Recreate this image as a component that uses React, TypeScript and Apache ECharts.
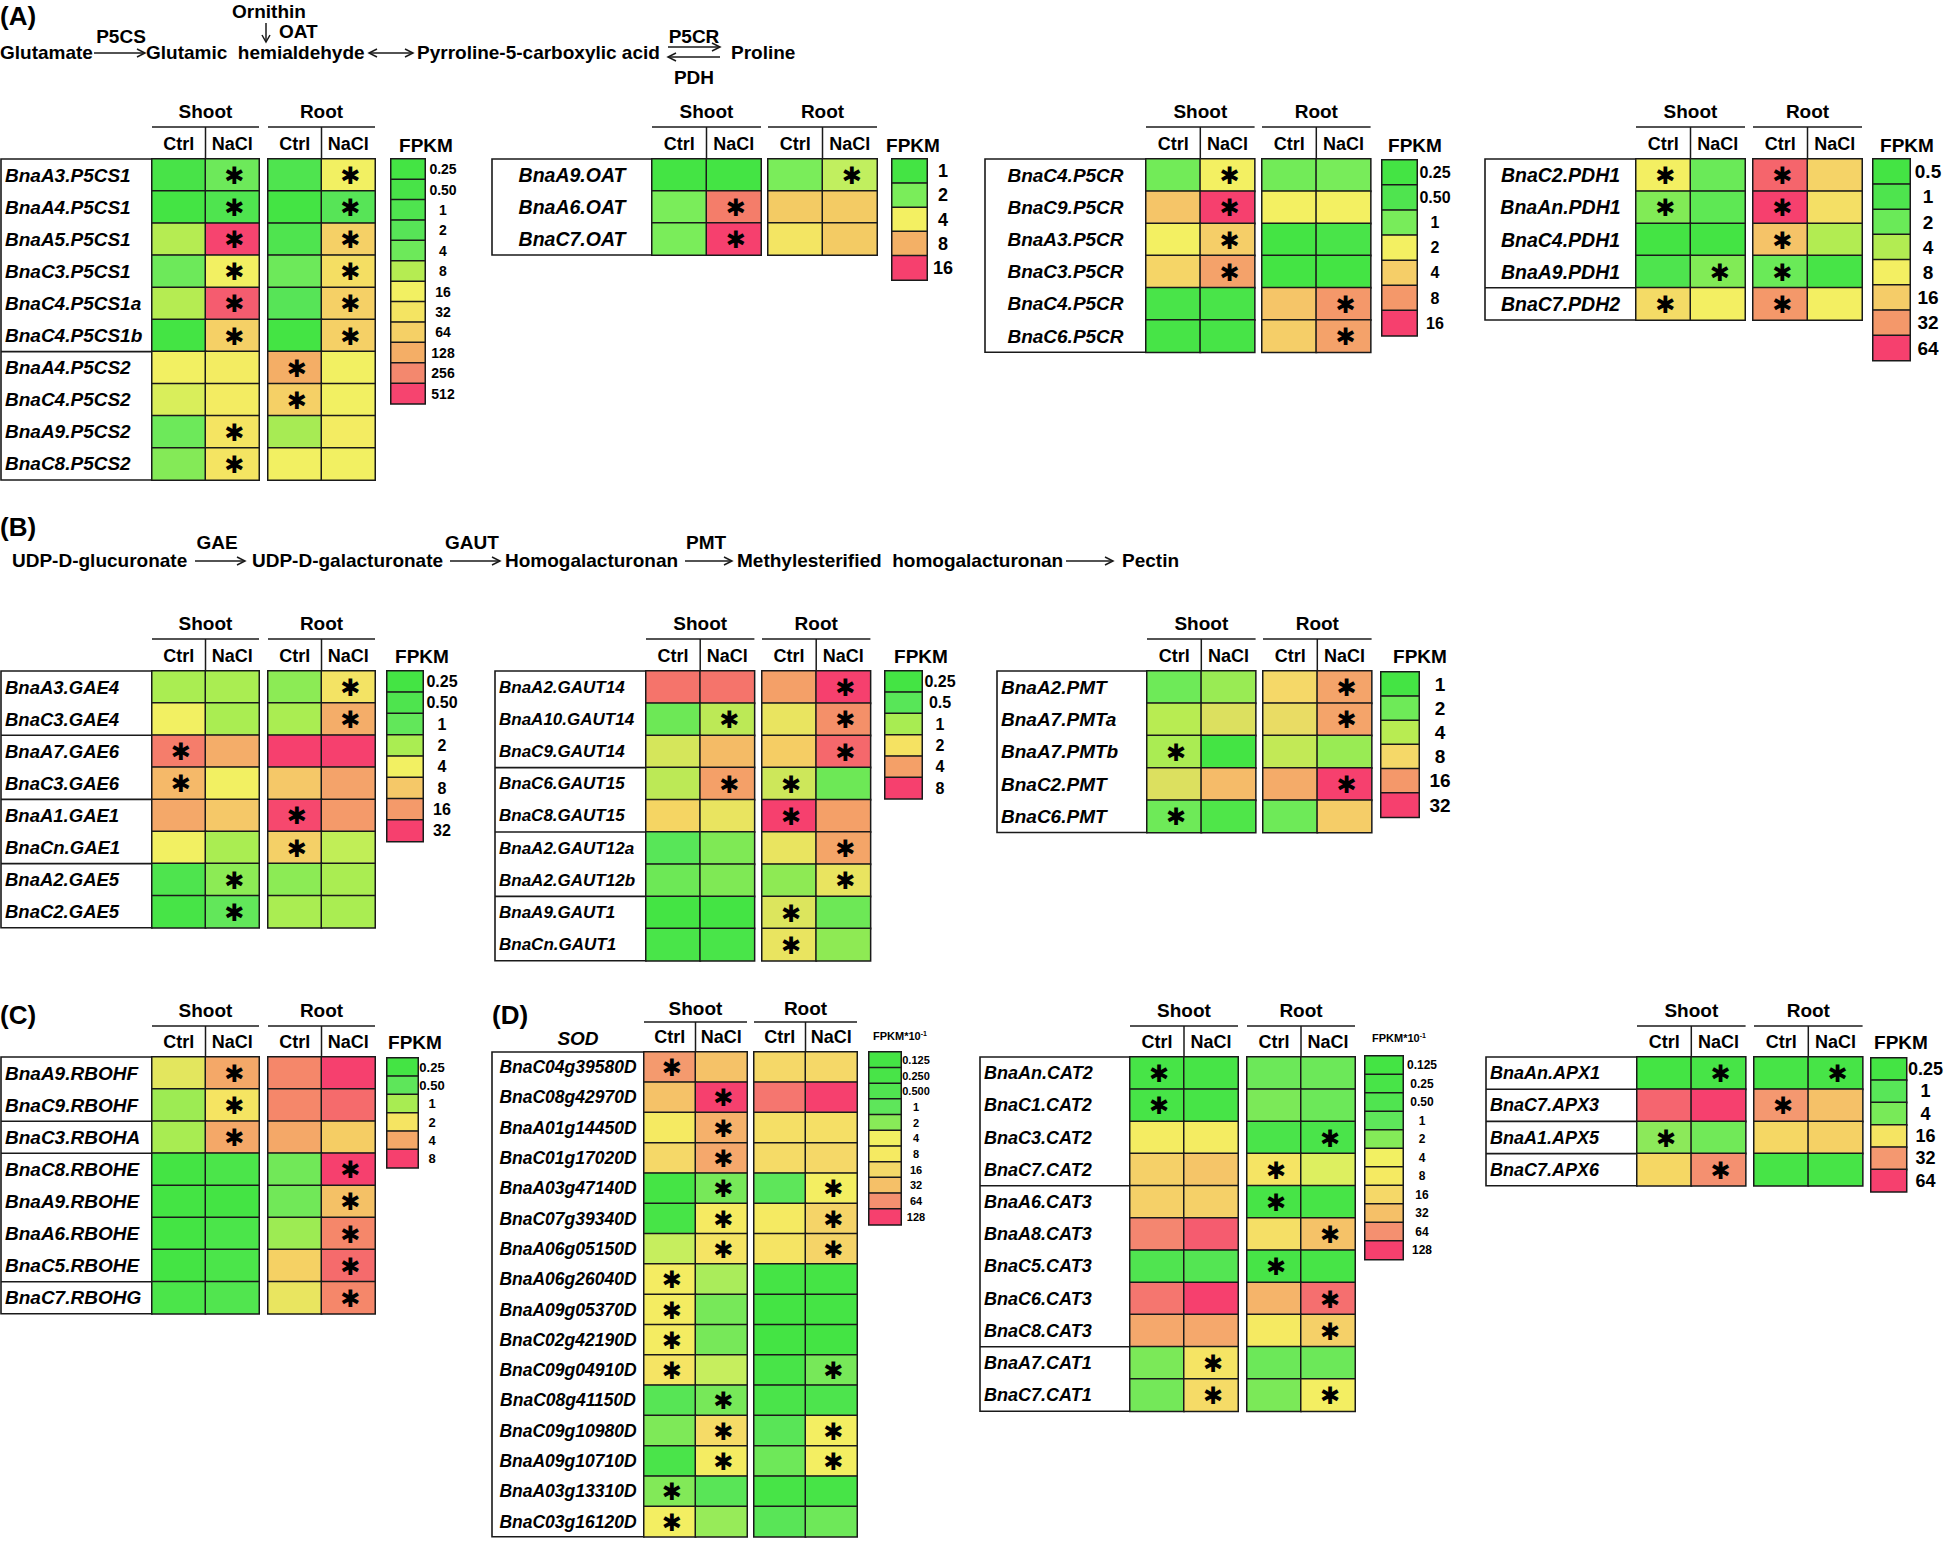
import React, { useEffect, useRef } from "react";
import * as echarts from "echarts";

const FONT = "'Liberation Sans', Arial, Helvetica, sans-serif";
const STAR_FONT = "'DejaVu Sans', 'Liberation Sans', sans-serif";

const conditionLabels = ["Ctrl", "NaCl"];
const tissueLabels = ["Shoot", "Root"];
const starMark = "\u2731";

// ---------------- (A) Proline ----------------
const p5csGenes = ["BnaA3.P5CS1", "BnaA4.P5CS1", "BnaA5.P5CS1", "BnaC3.P5CS1", "BnaC4.P5CS1a", "BnaC4.P5CS1b", "BnaA4.P5CS2", "BnaC4.P5CS2", "BnaA9.P5CS2", "BnaC8.P5CS2"];
// columns: Shoot Ctrl, Shoot NaCl, Root Ctrl, Root NaCl (FPKM)
const p5csValues = [
  [0.5, 4, 1, 16], [0.25, 1, 0.25, 2], [8, 512, 1, 64], [4, 16, 4, 40], [8, 400, 2, 64],
  [0.25, 64, 0.25, 64], [16, 20, 128, 16], [12, 20, 64, 16], [4, 32, 7, 20], [5, 32, 16, 16],
];
const p5csStars = [
  [0, 1, 0, 1], [0, 1, 0, 1], [0, 1, 0, 1], [0, 1, 0, 1], [0, 1, 0, 1],
  [0, 1, 0, 1], [0, 0, 1, 0], [0, 0, 1, 0], [0, 1, 0, 0], [0, 1, 0, 0],
];
const p5csLevels = ["0.25", "0.50", "1", "2", "4", "8", "16", "32", "64", "128", "256", "512"];
const p5csColors = ["#44e444", "#48e348", "#4fe44f", "#57e457", "#6de95a", "#b5ec52", "#f2f062", "#f4e462", "#f5d066", "#f4ae66", "#f3886e", "#f6446f"];

const oatGenes = ["BnaA9.OAT", "BnaA6.OAT", "BnaC7.OAT"];
const oatValues = [[1, 1, 2, 3], [2, 11, 6, 6], [2, 16, 4.5, 6]];
const oatStars = [[0, 0, 0, 1], [0, 1, 0, 0], [0, 1, 0, 0]];
const oatLevels = ["1", "2", "4", "8", "16"];
const oatColors = ["#44e444", "#7aed5a", "#f3f062", "#f3b066", "#f6406e"];

const p5crGenes = ["BnaC4.P5CR", "BnaC9.P5CR", "BnaA3.P5CR", "BnaC3.P5CR", "BnaC4.P5CR", "BnaC6.P5CR"];
const p5crValues = [[0.9, 2, 0.9, 1], [4.5, 16, 2, 2], [2, 4, 0.25, 0.35], [3.5, 7, 0.25, 0.25], [0.35, 0.35, 4.5, 8], [0.3, 0.3, 4, 7]];
const p5crStars = [[0, 1, 0, 0], [0, 1, 0, 0], [0, 1, 0, 0], [0, 1, 0, 0], [0, 0, 0, 1], [0, 0, 0, 1]];
const p5crLevels = ["0.25", "0.50", "1", "2", "4", "8", "16"];
const p5crColors = ["#44e444", "#4fe44f", "#78ec5a", "#f3f062", "#f5ce68", "#f4986a", "#f6406e"];

const pdhGenes = ["BnaC2.PDH1", "BnaAn.PDH1", "BnaC4.PDH1", "BnaA9.PDH1", "BnaC7.PDH2"];
const pdhValues = [[8, 2, 48, 14], [2.5, 1.5, 64, 11], [0.5, 0.5, 18, 4], [1, 2.5, 2, 0.6], [12, 8, 32, 8]];
const pdhStars = [[1, 0, 1, 0], [1, 0, 1, 0], [0, 0, 1, 0], [0, 1, 1, 0], [1, 0, 1, 0]];
const pdhLevels = ["0.5", "1", "2", "4", "8", "16", "32", "64"];
const pdhColors = ["#44e444", "#4ee44e", "#6aea58", "#b2ec52", "#f3ef62", "#f5cc68", "#f4986a", "#f6406e"];

// ---------------- (B) Pectin ----------------
const gaeGenes = ["BnaA3.GAE4", "BnaC3.GAE4", "BnaA7.GAE6", "BnaC3.GAE6", "BnaA1.GAE1", "BnaCn.GAE1", "BnaA2.GAE5", "BnaC2.GAE5"];
const gaeValues = [[2, 2, 1.5, 5], [4, 2, 2, 12], [20, 12, 32, 32], [10, 4, 8, 14], [13, 8, 30, 16], [4, 2, 7, 2.5], [0.5, 1.5, 1.5, 2], [0.3, 1, 2, 2]];
const gaeStars = [[0, 0, 0, 1], [0, 0, 0, 1], [1, 0, 0, 0], [1, 0, 0, 0], [0, 0, 1, 0], [0, 0, 1, 0], [0, 1, 0, 0], [0, 1, 0, 0]];
const gaeLevels = ["0.25", "0.50", "1", "2", "4", "8", "16", "32"];
const gaeColors = ["#44e444", "#4ee44e", "#62e75a", "#aaed52", "#f2f062", "#f5c868", "#f49a6a", "#f6406e"];

const gautGenes = ["BnaA2.GAUT14", "BnaA10.GAUT14", "BnaC9.GAUT14", "BnaC6.GAUT15", "BnaC8.GAUT15", "BnaA2.GAUT12a", "BnaA2.GAUT12b", "BnaA9.GAUT1", "BnaCn.GAUT1"];
const gautValues = [[5.5, 5.5, 4, 8], [0.6, 1.2, 1.8, 4.5], [1.5, 3, 2.5, 6], [1.2, 4, 1.4, 0.6], [2.3, 1.8, 8, 4], [0.5, 0.7, 1.8, 3.8], [0.6, 0.7, 0.8, 1.8], [0.25, 0.25, 1.6, 0.6], [0.3, 0.3, 1.8, 0.8]];
const gautStars = [[0, 0, 0, 1], [0, 1, 0, 1], [0, 0, 0, 1], [0, 1, 1, 0], [0, 0, 1, 0], [0, 0, 0, 1], [0, 0, 0, 1], [0, 0, 1, 0], [0, 0, 1, 0]];
const gautLevels = ["0.25", "0.5", "1", "2", "4", "8"];
const gautColors = ["#44e444", "#58e658", "#a8ec52", "#f5e262", "#f4a068", "#f6406e"];

const pmtGenes = ["BnaA2.PMT", "BnaA7.PMTa", "BnaA7.PMTb", "BnaC2.PMT", "BnaC6.PMT"];
const pmtValues = [[2, 3, 8, 14], [4, 6, 7, 14], [3.5, 1, 4.5, 3], [6, 11, 13, 32], [2, 1.2, 2, 9]];
const pmtStars = [[0, 0, 0, 1], [0, 0, 0, 1], [1, 0, 0, 0], [0, 0, 0, 1], [1, 0, 0, 0]];
const pmtLevels = ["1", "2", "4", "8", "16", "32"];
const pmtColors = ["#44e444", "#6eea58", "#b8ec52", "#f5d868", "#f4986a", "#f6406e"];

// ---------------- (C) RBOH ----------------
const rbohGenes = ["BnaA9.RBOHF", "BnaC9.RBOHF", "BnaC3.RBOHA", "BnaC8.RBOHE", "BnaA9.RBOHE", "BnaA6.RBOHE", "BnaC5.RBOHE", "BnaC7.RBOHG"];
const rbohValues = [[1.7, 4, 5, 8], [0.9, 2, 5, 6], [1, 4, 4, 2.6], [0.25, 0.3, 0.6, 8], [0.25, 0.25, 0.6, 3], [0.25, 0.3, 0.9, 5], [0.25, 0.3, 2.5, 6], [0.3, 0.35, 1.8, 5]];
const rbohStars = [[0, 1, 0, 0], [0, 1, 0, 0], [0, 1, 0, 0], [0, 0, 0, 1], [0, 0, 0, 1], [0, 0, 0, 1], [0, 0, 0, 1], [0, 0, 0, 1]];
const rbohLevels = ["0.25", "0.50", "1", "2", "4", "8"];
const rbohColors = ["#44e444", "#5ee65a", "#a8ec52", "#f5e462", "#f4a868", "#f6406e"];

// ---------------- (D) SOD / CAT / APX ----------------
const sodGenes = ["BnaC04g39580D", "BnaC08g42970D", "BnaA01g14450D", "BnaC01g17020D", "BnaA03g47140D", "BnaC07g39340D", "BnaA06g05150D", "BnaA06g26040D", "BnaA09g05370D", "BnaC02g42190D", "BnaC09g04910D", "BnaC08g41150D", "BnaC09g10980D", "BnaA09g10710D", "BnaA03g13310D", "BnaC03g16120D"];
const sodValues = [
  [55, 30, 16, 16], [30, 128, 80, 128], [8, 40, 12, 12], [16, 45, 14, 16], [0.15, 1.5, 1, 5], [0.2, 8, 8, 18],
  [3, 10, 10, 18], [6, 2.5, 0.15, 0.15], [6, 1.5, 0.13, 0.15], [6, 1.5, 0.13, 0.13], [10, 3, 0.25, 1.5],
  [0.7, 1.5, 0.3, 0.4], [1.7, 14, 0.8, 5], [0.3, 6, 1.3, 5], [1.8, 0.8, 0.2, 0.2], [5, 2.2, 0.8, 1.3],
];
const sodStars = [
  [1, 0, 0, 0], [0, 1, 0, 0], [0, 1, 0, 0], [0, 1, 0, 0], [0, 1, 0, 1], [0, 1, 0, 1], [0, 1, 0, 1], [1, 0, 0, 0],
  [1, 0, 0, 0], [1, 0, 0, 0], [1, 0, 0, 1], [0, 1, 0, 0], [0, 1, 0, 1], [0, 1, 0, 1], [1, 0, 0, 0], [1, 0, 0, 0],
];
const sodLevels = ["0.125", "0.250", "0.500", "1", "2", "4", "8", "16", "32", "64", "128"];
const sodColors = ["#44e444", "#48e448", "#50e450", "#5ee65a", "#88ea58", "#f2f062", "#f5ea62", "#f5d868", "#f5c068", "#f49070", "#f6406e"];

const catGenes = ["BnaAn.CAT2", "BnaC1.CAT2", "BnaC3.CAT2", "BnaC7.CAT2", "BnaA6.CAT3", "BnaA8.CAT3", "BnaC5.CAT3", "BnaC6.CAT3", "BnaC8.CAT3", "BnaA7.CAT1", "BnaC7.CAT1"];
const catValues = [
  [0.2, 0.2, 1.3, 1.3], [0.2, 0.2, 1.7, 1.3], [6, 6, 0.3, 0.3], [20, 28, 10, 3.5], [20, 20, 0.2, 0.2], [70, 100, 12, 30],
  [0.5, 0.6, 0.2, 0.2], [80, 128, 38, 85], [45, 45, 8, 20], [1.7, 10, 1.3, 1.3], [1.5, 14, 1.7, 5],
];
const catStars = [[1, 0, 0, 0], [1, 0, 0, 0], [0, 0, 0, 1], [0, 0, 1, 0], [0, 0, 1, 0], [0, 0, 0, 1], [0, 0, 1, 0], [0, 0, 0, 1], [0, 0, 0, 1], [0, 1, 0, 0], [0, 1, 0, 1]];
const catLevels = ["0.125", "0.25", "0.50", "1", "2", "4", "8", "16", "32", "64", "128"];
const catColors = ["#44e444", "#48e448", "#50e450", "#5ee65a", "#84ea58", "#f2f062", "#f5ea62", "#f5d868", "#f5c068", "#f49070", "#f6406e"];

const apxGenes = ["BnaAn.APX1", "BnaC7.APX3", "BnaA1.APX5", "BnaC7.APX6"];
const apxValues = [[0.25, 0.3, 0.3, 0.3], [48, 64, 32, 22], [5, 3, 18, 19], [18, 34, 0.3, 0.3]];
const apxStars = [[0, 1, 0, 1], [0, 0, 1, 0], [1, 0, 0, 0], [0, 1, 0, 0]];
const apxLevels = ["0.25", "1", "4", "16", "32", "64"];
const apxColors = ["#44e444", "#58e658", "#78ea58", "#f5e462", "#f49870", "#f6406e"];

// ---------------- layouts (positions only) ----------------
type Layout = {
  box: number; shoot: number; root: number; col: number; top: number; row: number;
  align: "left" | "center"; labelFont: number; seps: number[]; nameGap: number; ul: number;
  legX: number; legW: number; legTop: number; legH: number; legCx: number; legFont: number;
  unit: string; unitCx: number; unitY: number; unitFont: number;
};

const L = (o: Partial<Layout>): Layout => ({
  box: 0, shoot: 0, root: 0, col: 54, top: 0, row: 32.2, align: "left", labelFont: 18, seps: [], nameGap: 38, ul: 32,
  legX: 0, legW: 36, legTop: 0, legH: 20, legCx: 0, legFont: 16, unit: "FPKM", unitCx: 0, unitY: 0, unitFont: 19, ...o,
});

const panels = [
  { genes: p5csGenes, values: p5csValues, stars: p5csStars, levels: p5csLevels, colors: p5csColors,
    lay: L({ box: 1, shoot: 152, root: 268, col: 53.5, top: 159, row: 32.1, labelFont: 19, seps: [6], legX: 391, legW: 34, legTop: 159, legH: 20.4, legCx: 443, legFont: 14, unitCx: 426, unitY: 145 }) },
  { genes: oatGenes, values: oatValues, stars: oatStars, levels: oatLevels, colors: oatColors,
    lay: L({ box: 492, shoot: 652, root: 768, col: 54.5, top: 159, row: 32, align: "center", labelFont: 19.5, legX: 892, legW: 35, legTop: 159, legH: 24.2, legCx: 943, legFont: 18, unitCx: 913, unitY: 145 }) },
  { genes: p5crGenes, values: p5crValues, stars: p5crStars, levels: p5crLevels, colors: p5crColors,
    lay: L({ box: 985, shoot: 1146, root: 1262, col: 54.3, top: 159, row: 32.2, align: "center", labelFont: 19, legX: 1382, legW: 35, legTop: 160, legH: 25.1, legCx: 1435, legFont: 16, unitCx: 1415, unitY: 145 }) },
  { genes: pdhGenes, values: pdhValues, stars: pdhStars, levels: pdhLevels, colors: pdhColors,
    lay: L({ box: 1485, shoot: 1636, root: 1753, col: 54.5, top: 159, row: 32.2, align: "center", labelFont: 19.5, seps: [4], legX: 1873, legW: 37, legTop: 159, legH: 25.2, legCx: 1928, legFont: 19, unitCx: 1907, unitY: 145 }) },
  { genes: gaeGenes, values: gaeValues, stars: gaeStars, levels: gaeLevels, colors: gaeColors,
    lay: L({ box: 1, shoot: 152, root: 268, col: 53.5, top: 671, row: 32.1, labelFont: 18.5, seps: [2, 4, 6], legX: 387, legW: 36, legTop: 671, legH: 21.3, legCx: 442, legFont: 16, unitCx: 422, unitY: 656 }) },
  { genes: gautGenes, values: gautValues, stars: gautStars, levels: gautLevels, colors: gautColors,
    lay: L({ box: 495, shoot: 646, root: 762, col: 54.2, top: 671, row: 32.2, labelFont: 17, seps: [3, 5, 7], legX: 885, legW: 37, legTop: 671, legH: 21.3, legCx: 940, legFont: 16, unitCx: 921, unitY: 656 }) },
  { genes: pmtGenes, values: pmtValues, stars: pmtStars, levels: pmtLevels, colors: pmtColors,
    lay: L({ box: 997, shoot: 1147, root: 1263, col: 54.3, top: 671, row: 32.3, labelFont: 19, legX: 1381, legW: 38, legTop: 672, legH: 24.2, legCx: 1440, legFont: 19, unitCx: 1420, unitY: 656 }) },
  { genes: rbohGenes, values: rbohValues, stars: rbohStars, levels: rbohLevels, colors: rbohColors,
    lay: L({ box: 1, shoot: 152, root: 268, col: 53.5, top: 1057, row: 32.1, labelFont: 19, seps: [2, 3, 7], nameGap: 37, ul: 31, legX: 387, legW: 31, legTop: 1058, legH: 18.3, legCx: 432, legFont: 13, unitCx: 415, unitY: 1042 }) },
  { genes: sodGenes, values: sodValues, stars: sodStars, levels: sodLevels, colors: sodColors,
    lay: L({ box: 492, shoot: 644, root: 754, col: 51.5, top: 1052, row: 30.3, align: "center", labelFont: 17.5, nameGap: 34, ul: 30, legX: 869, legW: 32, legTop: 1052, legH: 15.7, legCx: 916, legFont: 11, unit: "FPKM*10{s|-1}", unitCx: 900, unitY: 1036, unitFont: 11 }) },
  { genes: catGenes, values: catValues, stars: catStars, levels: catLevels, colors: catColors,
    lay: L({ box: 980, shoot: 1130, root: 1247, col: 54, top: 1057, row: 32.2, seps: [4, 9], nameGap: 37, ul: 31, legX: 1365, legW: 38, legTop: 1056, legH: 18.5, legCx: 1422, legFont: 12, unit: "FPKM*10{s|-1}", unitCx: 1399, unitY: 1038, unitFont: 11 }) },
  { genes: apxGenes, values: apxValues, stars: apxStars, levels: apxLevels, colors: apxColors,
    lay: L({ box: 1486, shoot: 1637, root: 1754, col: 54.3, top: 1057, row: 32.2, seps: [1, 2, 3], nameGap: 37, ul: 31, legX: 1871, legW: 38, legTop: 1058, legH: 22.3, legCx: 1928, legFont: 18, unitCx: 1901, unitY: 1042 }) },
];

// position of a value along the colour key (0..1), piecewise in log2 between key levels
function keyPos(v: number, levels: string[]) {
  const ls = levels.map((s) => Math.log2(parseFloat(s)));
  const t = Math.log2(v);
  const n = ls.length - 1;
  if (t <= ls[0]) return 0;
  if (t >= ls[n]) return 1;
  for (let i = 0; i < n; i++) {
    if (t <= ls[i + 1]) return (i + (t - ls[i]) / (ls[i + 1] - ls[i])) / n;
  }
  return 1;
}

const STROKE = "#1a1a1a";

function buildOption() {
  const grid: any[] = [];
  const xAxis: any[] = [];
  const yAxis: any[] = [];
  const series: any[] = [];
  const visualMap: any[] = [];
  const G: any[] = [];

  const text = (t: string, x: number, y: number, size: number, align = "left", extra: any = {}) =>
    G.push({
      type: "text", x, y, silent: true,
      style: { text: t, fill: "#000", font: `${extra.italic ? "italic " : ""}bold ${size}px ${FONT}`, textAlign: align, textVerticalAlign: "middle", ...(extra.rich ? { rich: extra.rich } : {}) },
    });
  const line = (x1: number, y1: number, x2: number, y2: number, w = 1.5) =>
    G.push({ type: "line", silent: true, shape: { x1, y1, x2, y2 }, style: { stroke: STROKE, lineWidth: w } });
  const head = (pts: number[][]) =>
    G.push({ type: "polyline", silent: true, shape: { points: pts }, style: { stroke: STROKE, lineWidth: 1.5, fill: "none" } });
  const hArrow = (x1: number, x2: number, y: number, r: boolean, l: boolean) => {
    line(x1, y, x2, y, 1.5);
    if (r) head([[x2 - 8, y - 4], [x2, y], [x2 - 8, y + 4]]);
    if (l) head([[x1 + 8, y - 4], [x1, y], [x1 + 8, y + 4]]);
  };

  panels.forEach((p) => {
    const lay = p.lay;
    const n = p.genes.length;
    const h = n * lay.row;
    const seriesIdx: number[] = [];
    [0, 1].forEach((t) => {
      const gi = grid.length;
      const left = t === 0 ? lay.shoot : lay.root;
      grid.push({ left, top: lay.top, width: 2 * lay.col, height: h, show: false });
      xAxis.push({
        type: "category", gridIndex: gi, data: conditionLabels, position: "top",
        axisLine: { show: false }, axisTick: { show: false }, splitLine: { show: false },
        axisLabel: { interval: 0, fontSize: 18, fontWeight: "bold", color: "#000", margin: 6, fontFamily: FONT },
        name: tissueLabels[t], nameLocation: "middle", nameGap: lay.nameGap,
        nameTextStyle: { fontSize: 19, fontWeight: "bold", color: "#000", fontFamily: FONT },
      });
      yAxis.push({
        type: "category", gridIndex: gi, data: p.genes, inverse: true,
        axisLine: { show: false }, axisTick: { show: false }, splitLine: { show: false },
        axisLabel: t === 0
          ? {
              show: true, interval: 0, fontSize: lay.labelFont, fontWeight: "bold", fontStyle: "italic", color: "#000", fontFamily: FONT,
              align: lay.align, margin: lay.align === "left" ? lay.shoot - lay.box - 4 : (lay.shoot - lay.box) / 2,
            }
          : { show: false },
      });
      const data: any[] = [];
      p.values.forEach((row, r) => {
        [0, 1].forEach((c) => {
          const v = row[t * 2 + c];
          const s = p.stars[r][t * 2 + c];
          const item: any = { value: [c, r, v, keyPos(v, p.levels)] };
          if (s) item.label = { show: true };
          data.push(item);
        });
      });
      seriesIdx.push(series.length);
      series.push({
        type: "heatmap", xAxisIndex: gi, yAxisIndex: gi, data,
        itemStyle: { borderColor: STROKE, borderWidth: 1.5 },
        label: { show: false, formatter: starMark, fontSize: 24, color: "#000", fontFamily: STAR_FONT, offset: [2, 1] },
        emphasis: { disabled: true },
      });
      // header decorations
      line(left, lay.top - lay.ul, left + 2 * lay.col, lay.top - lay.ul, 1.5);
      line(left + lay.col, lay.top - lay.ul, left + lay.col, lay.top, 1.5);
    });
    // label box
    G.push({ type: "rect", silent: true, shape: { x: lay.box, y: lay.top, width: lay.shoot - lay.box, height: h }, style: { fill: "none", stroke: STROKE, lineWidth: 1.6 } });
    lay.seps.forEach((s) => line(lay.box, lay.top + s * lay.row, lay.shoot, lay.top + s * lay.row, 1.6));

    // colour key
    const gi = grid.length;
    const nl = p.levels.length;
    grid.push({ left: lay.legX, top: lay.legTop, width: lay.legW, height: nl * lay.legH, show: false });
    xAxis.push({ type: "category", gridIndex: gi, data: [""], show: false });
    yAxis.push({
      type: "category", gridIndex: gi, data: p.levels, inverse: true, position: "right",
      axisLine: { show: false }, axisTick: { show: false }, splitLine: { show: false },
      axisLabel: { interval: 0, align: "center", margin: lay.legCx - lay.legX - lay.legW, fontSize: lay.legFont, fontWeight: "bold", color: "#000", fontFamily: FONT },
    });
    seriesIdx.push(series.length);
    series.push({
      type: "heatmap", xAxisIndex: gi, yAxisIndex: gi,
      data: p.levels.map((lv, i) => ({ value: [0, i, parseFloat(lv), keyPos(parseFloat(lv), p.levels)] })),
      itemStyle: { borderColor: STROKE, borderWidth: 1.5 },
      emphasis: { disabled: true },
    });
    visualMap.push({
      type: "continuous", show: false, seriesIndex: seriesIdx, dimension: 3, min: 0, max: 1,
      inRange: { color: p.colors },
    });
    if (lay.unit.includes("{s|")) {
      text(lay.unit, lay.unitCx, lay.unitY, lay.unitFont, "center", { rich: { s: { fontSize: 7, fontWeight: "bold", fontFamily: FONT, verticalAlign: "top", padding: [0, 0, 5, 0] } } });
    } else {
      text(lay.unit, lay.unitCx, lay.unitY, lay.unitFont, "center");
    }
  });

  // Panel letters
  text("(A)", 0, 16, 26);
  text("(B)", 0, 527, 26);
  text("(C)", 0, 1015, 26);
  text("(D)", 492, 1015, 26);
  text("SOD", 578, 1038, 19, "center", { italic: true });

  // Pathway A
  text("Glutamate", 0, 52, 19);
  hArrow(94, 145, 53, true, false);
  text("P5CS", 121, 36, 19, "center");
  text("Glutamic  hemialdehyde", 146, 52, 19);
  text("Ornithin", 269, 11, 19, "center");
  line(266, 23, 266, 42, 1.5);
  head([[262, 35], [266, 42], [270, 35]]);
  text("OAT", 279, 31, 19);
  hArrow(369, 413, 53, true, true);
  text("Pyrroline-5-carboxylic acid", 417, 52, 19);
  hArrow(668, 720, 47, true, false);
  hArrow(668, 720, 57, false, true);
  text("P5CR", 694, 36, 19, "center");
  text("PDH", 694, 77, 19, "center");
  text("Proline", 731, 52, 19);

  // Pathway B
  text("UDP-D-glucuronate", 12, 560, 19);
  hArrow(195, 245, 561, true, false);
  text("GAE", 217, 542, 19, "center");
  text("UDP-D-galacturonate", 252, 560, 19);
  hArrow(450, 500, 561, true, false);
  text("GAUT", 472, 542, 19, "center");
  text("Homogalacturonan", 505, 560, 19);
  hArrow(685, 732, 561, true, false);
  text("PMT", 706, 542, 19, "center");
  text("Methylesterified  homogalacturonan", 737, 560, 19);
  hArrow(1066, 1113, 561, true, false);
  text("Pectin", 1122, 560, 19);

  return {
    animation: false,
    backgroundColor: "#ffffff",
    textStyle: { fontFamily: FONT },
    grid, xAxis, yAxis, series, visualMap,
    graphic: { elements: G },
  };
}

export default function App() {
  const ref = useRef<HTMLDivElement>(null);
  useEffect(() => {
    document.body.style.margin = "0";
    const chart = echarts.init(ref.current!, null, { renderer: "svg" });
    chart.setOption(buildOption() as any);
    return () => chart.dispose();
  }, []);
  return <div ref={ref} style={{ width: 1946, height: 1541, background: "#fff" }} />;
}
